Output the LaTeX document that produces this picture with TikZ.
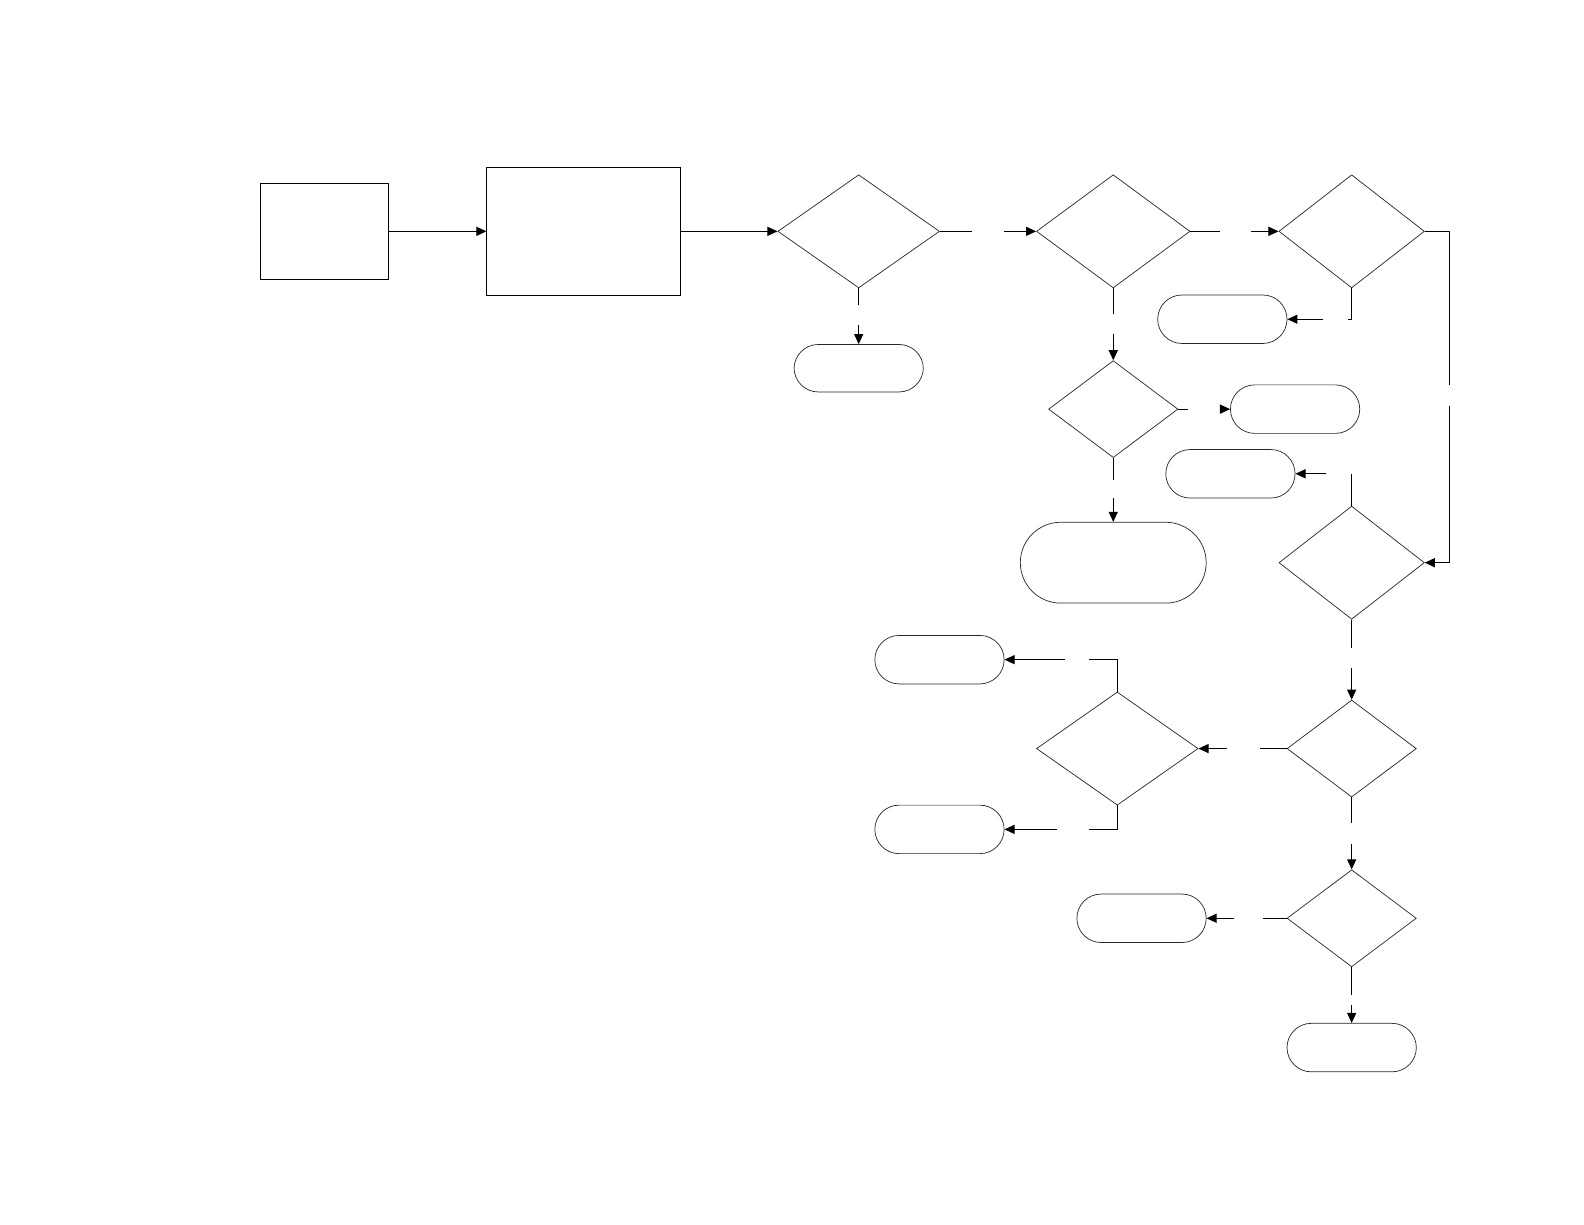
\documentclass[tikz,border=0pt]{standalone}
\usetikzlibrary{shapes.geometric,arrows.meta}
\begin{document}
\begin{tikzpicture}[x=1pt,y=-1pt,
  procbox/.style={draw=black,line width=1pt,rectangle,inner sep=0pt},
  decide/.style={draw=black!85,line width=0.7pt,diamond,inner sep=0pt},
  term/.style={draw=black!85,line width=0.7pt,rectangle,inner sep=0pt,minimum width=128pt,minimum height=48pt,rounded corners=24pt},
  conn/.style={line width=1pt,black},
  arr/.style={conn,-{Triangle[length=10pt,width=9pt]}}]
\useasboundingbox (0,0) rectangle (1568,1212);
% process boxes
\node[procbox,minimum width=127pt,minimum height=95pt] (b1) at (321.5,229) {};
\node[procbox,minimum width=192pt,minimum height=127pt] (b2) at (578,229) {};
% decisions
\node[decide,minimum width=160pt,minimum height=112pt] (d1) at (850,229) {};
\node[decide,minimum width=152pt,minimum height=112pt] (d2) at (1102,229) {};
\node[decide,minimum width=144pt,minimum height=112pt] (d3) at (1338,229) {};
\node[decide,minimum width=128pt,minimum height=96pt] (d4) at (1102,405) {};
\node[decide,minimum width=144pt,minimum height=112pt] (d5) at (1338,557) {};
\node[decide,minimum width=128pt,minimum height=96pt] (d6) at (1338,741) {};
\node[decide,minimum width=160pt,minimum height=112pt] (d7) at (1106,741) {};
\node[decide,minimum width=128pt,minimum height=96pt] (d8) at (1338,909) {};
% terminals
\node[term,minimum height=47pt] (t1) at (850,364.5) {};
\node[term] (t2) at (1210,316) {};
\node[term] (t3) at (1282,405) {};
\node[term,minimum width=184pt,minimum height=80pt,rounded corners=40pt] (t4) at (1102,557) {};
\node[term] (t5) at (1218,469) {};
\node[term] (t6) at (930,653) {};
\node[term] (t7) at (930,821) {};
\node[term] (t8) at (1130,909) {};
\node[term] (t9) at (1338,1037) {};
% gap coordinates
\coordinate (g1a) at (962,229);  \coordinate (g1b) at (994,229);
\coordinate (g2a) at (1208,229); \coordinate (g2b) at (1238,229);
\coordinate (g3a) at (1435,381); \coordinate (g3b) at (1435,402);
\coordinate (g4a) at (850,302);  \coordinate (g4b) at (850,322);
\coordinate (g5a) at (1334,316); \coordinate (g5b) at (1310,316);
\coordinate (g6a) at (1102,311); \coordinate (g6b) at (1102,331);
\coordinate (g7a) at (1176,405); \coordinate (g7b) at (1208,405);
\coordinate (g8a) at (1102,475); \coordinate (g8b) at (1102,493);
\coordinate (g9a) at (1338,469); \coordinate (g9b) at (1313,469);
\coordinate (g10a) at (1338,641); \coordinate (g10b) at (1338,661);
\coordinate (g11a) at (1247,741); \coordinate (g11b) at (1215,741);
\coordinate (g12a) at (1078,653); \coordinate (g12b) at (1054,653);
\coordinate (g13a) at (1078,821); \coordinate (g13b) at (1046,821);
\coordinate (g14a) at (1338,815); \coordinate (g14b) at (1338,835);
\coordinate (g15a) at (1250,909); \coordinate (g15b) at (1222,909);
\coordinate (g16a) at (1338,985); \coordinate (g16b) at (1338,995);
% connectors
\draw[arr] (b1.east) -- (b2.west);
\draw[arr] (b2.east) -- (d1.west);
\draw[conn] (d1.east) -- (g1a); \draw[arr] (g1b) -- (d2.west);
\draw[conn] (d2.east) -- (g2a); \draw[arr] (g2b) -- (d3.west);
\draw[conn] (d3.east) -| (g3a); \draw[arr] (g3b) |- (d5.east);
\draw[conn] (d1.south) -- (g4a); \draw[arr] (g4b) -- (t1.north);
\draw[conn] (d3.south) |- (g5a); \draw[arr] (g5b) -- (t2.east);
\draw[conn] (d2.south) -- (g6a); \draw[arr] (g6b) -- (d4.north);
\draw[conn] (d4.east) -- (g7a); \draw[arr] (g7b) -- (t3.west);
\draw[conn] (d4.south) -- (g8a); \draw[arr] (g8b) -- (t4.north);
\draw[conn] (d5.north) -- (g9a); \draw[arr] (g9b) -- (t5.east);
\draw[conn] (d5.south) -- (g10a); \draw[arr] (g10b) -- (d6.north);
\draw[conn] (d6.west) -- (g11a); \draw[arr] (g11b) -- (d7.east);
\draw[conn] (d7.north) |- (g12a); \draw[arr] (g12b) -- (t6.east);
\draw[conn] (d7.south) |- (g13a); \draw[arr] (g13b) -- (t7.east);
\draw[conn] (d6.south) -- (g14a); \draw[arr] (g14b) -- (d8.north);
\draw[conn] (d8.west) -- (g15a); \draw[arr] (g15b) -- (t8.east);
\draw[conn] (d8.south) -- (g16a); \draw[arr] (g16b) -- (t9.north);
\end{tikzpicture}
\end{document}
